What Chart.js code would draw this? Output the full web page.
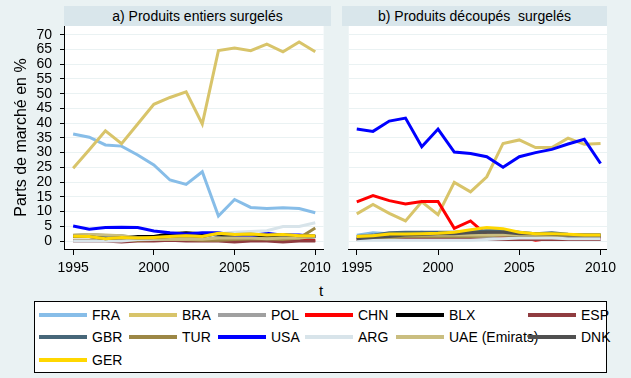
<!DOCTYPE html>
<html>
<head>
<meta charset="utf-8">
<script src="https://cdn.jsdelivr.net/npm/chart.js@4"></script>
<style>
  body { margin: 0; background: #EAF2F3; font-family: "Liberation Sans", Arial, sans-serif; }
  #page { position: relative; width: 631px; height: 378px; overflow: hidden; background: #EAF2F3; }
  canvas { position: absolute; top: 0; }
  .strip { position: absolute; top: 6px; height: 20px; background: #D9E6EB; font-size: 14px;
           line-height: 20px; text-align: center; color: #000; }
  #legend { position: absolute; left: 34px; top: 301px; width: 573px; height: 72px;
            box-sizing: border-box; border: 1px solid #000; background: #fff; }
  .lg-line { position: absolute; width: 48px; height: 4px; }
  .lg-text { position: absolute; font-size: 14px; line-height: 16px; color: #000; white-space: nowrap; }
  #xtitle { position: absolute; left: 311px; top: 282px; width: 20px; text-align: center; font-size: 15px; }
</style>
</head>
<body>
<div id="page">
  <canvas id="chartA" width="336" height="280" style="left:0px"></canvas>
  <canvas id="chartB" width="300" height="280" style="left:336px"></canvas>
  <div class="strip" style="left:64px;width:267px">a) Produits entiers surgelés</div>
  <div class="strip" style="left:342px;width:265px">b) Produits découpés&nbsp; surgelés</div>
  <div id="xtitle">t</div>
  <div id="legend"></div>
</div>
<script>
// years on the x axis
const years = [1995, 1996, 1997, 1998, 1999, 2000, 2001, 2002, 2003, 2004, 2005, 2006, 2007, 2008, 2009, 2010];
const xTicks = [1995, 2000, 2005, 2010];
const yTicks = [0, 5, 10, 15, 20, 25, 30, 35, 40, 45, 50, 55, 60, 65, 70];

const countries = ['FRA', 'BRA', 'POL', 'CHN', 'BLX', 'ESP', 'GBR', 'TUR', 'USA', 'ARG', 'UAE (Emirats)', 'DNK', 'GER'];
const colors = ['#87BDE8', '#D8C46A', '#A0A0A0', '#FF0000', '#000000', '#903C40', '#476779',
                '#9C8745', '#0000FF', '#D8E4EA', '#CABE80', '#505050', '#FFD700'];

// a) produits entiers surgeles
const entFRA = [36.3, 35.2, 32.6, 32.2, 29.2, 25.8, 20.7, 19.2, 23.5, 8.5, 14.1, 11.4, 11.0, 11.3, 11.0, 9.6];
const entBRA = [24.7, 31.0, 37.4, 33.0, 39.7, 46.4, 48.7, 50.6, 39.7, 64.6, 65.5, 64.6, 66.8, 64.2, 67.5, 64.2];
const entPOL = [1.8, 2.0, 1.8, 1.6, 1.2, 0.8, 0.6, 0.6, 0.6, 1.0, 1.0, 1.0, 0.8, 1.0, 1.0, 1.4];
const entCHN = [0.2, 0.2, 0.2, 0.2, 0.2, 0.2, 0.2, 0.2, 0.2, 0.2, 0.2, 0.2, 0.2, 0.2, 0.2, 0.2];
const entBLX = [1.5, 1.5, 1.2, 1.5, 1.5, 1.5, 2.5, 2.8, 2.5, 2.0, 1.5, 1.5, 1.5, 2.0, 1.5, 1.5];
const entESP = [0.0, 0.0, 0.0, -0.3, 0.0, 0.0, 0.3, 0.0, 0.0, 0.0, -0.3, 0.0, 0.0, -0.3, 0.0, 0.0];
const entGBR = [1.9, 2.1, 1.9, 1.7, 1.2, 0.8, 0.6, 0.6, 0.6, 1.0, 1.0, 1.0, 0.8, 1.0, 1.0, 1.5];
const entTUR = [0.3, 0.3, 0.3, 0.3, 0.3, 0.5, 0.5, 0.5, 0.3, 0.3, 0.5, 0.7, 0.7, 0.5, 1.0, 4.4];
const entUSA = [5.1, 4.0, 4.6, 4.7, 4.6, 3.4, 2.8, 2.4, 2.8, 2.8, 2.0, 1.8, 2.6, 2.0, 2.0, 1.5];
const entARG = [0.0, 0.0, 0.0, 0.0, 0.5, 0.6, 0.8, 0.8, 1.0, 2.5, 3.0, 3.2, 3.5, 4.9, 4.9, 6.2];
const entUAE = [2.0, 2.2, 2.0, 1.8, 1.2, 0.8, 0.6, 0.6, 0.6, 1.0, 1.0, 1.0, 0.8, 1.0, 1.0, 1.5];
const entDNK = [1.6, 1.5, 0.8, 1.2, 1.0, 1.2, 1.5, 1.8, 1.5, 2.5, 2.2, 2.3, 2.0, 2.1, 1.8, 1.8];
const entGER = [1.6, 1.5, 0.8, 1.2, 1.0, 1.2, 1.5, 1.8, 1.5, 2.6, 2.2, 2.4, 2.0, 2.2, 1.8, 1.8];

// b) produits decoupes surgeles
const decFRA = [2.0, 2.8, 2.5, 2.5, 3.0, 2.5, 2.0, 1.5, 1.2, 1.0, 1.5, 1.2, 1.0, 1.0, 1.0, 0.5];
const decBRA = [9.2, 12.4, 9.4, 6.8, 13.3, 8.9, 19.9, 16.7, 21.8, 33.1, 34.3, 31.7, 31.7, 34.9, 32.8, 33.1];
const decPOL = [1.0, 1.0, 1.0, 1.0, 1.0, 1.0, 1.0, 1.0, 1.0, 1.0, 1.0, 1.0, 1.0, 1.0, 1.0, 1.0];
const decCHN = [13.3, 15.4, 13.7, 12.6, 13.4, 13.4, 4.3, 6.8, 2.0, 1.7, 1.5, 0.3, 0.9, 1.0, 1.2, 1.2];
const decBLX = [0.5, 1.0, 1.2, 1.2, 1.5, 1.5, 1.8, 2.0, 2.0, 2.0, 1.8, 1.8, 1.5, 1.5, 1.5, 1.5];
const decESP = [0.5, 0.5, 0.5, 0.5, 0.5, 0.5, 0.5, 0.5, 0.5, 0.5, 0.5, 0.5, 0.5, 0.5, 0.5, 0.5];
const decGBR = [1.5, 2.0, 2.8, 3.0, 3.0, 3.0, 3.0, 3.3, 3.5, 3.5, 3.0, 2.5, 2.8, 2.3, 2.0, 2.0];
const decTUR = [1.0, 1.0, 1.0, 1.5, 1.5, 1.5, 1.5, 1.5, 1.8, 2.0, 2.0, 2.0, 1.8, 1.8, 1.8, 1.8];
const decUSA = [38.0, 37.2, 40.7, 41.7, 32.0, 38.0, 30.2, 29.7, 28.6, 25.0, 28.6, 30.0, 31.1, 32.9, 34.5, 26.3];
const decARG = [0.3, 0.3, 0.3, 0.3, 0.3, 0.3, 0.3, 0.3, 0.5, 0.8, 1.0, 1.0, 1.0, 0.8, 0.8, 0.8];
const decUAE = [1.5, 1.8, 1.8, 2.0, 2.0, 2.0, 2.0, 2.0, 2.0, 2.0, 2.0, 2.0, 2.0, 2.0, 2.0, 2.0];
const decDNK = [0.8, 1.2, 1.5, 2.0, 2.2, 2.5, 2.5, 2.8, 3.0, 3.0, 2.5, 2.5, 2.3, 2.0, 2.0, 2.0];
const decGER = [1.5, 1.8, 2.4, 2.4, 2.5, 2.6, 3.0, 3.8, 4.6, 4.2, 3.0, 2.5, 2.5, 2.3, 2.0, 2.0];

const entier = [entFRA, entBRA, entPOL, entCHN, entBLX, entESP, entGBR, entTUR, entUSA, entARG, entUAE, entDNK, entGER];
const decoupe = [decFRA, decBRA, decPOL, decCHN, decBLX, decESP, decGBR, decTUR, decUSA, decARG, decUAE, decDNK, decGER];

const FONT = 'Liberation Sans';

function makeDatasets(series) {
    return series.map((vals, i) => ({
        label: countries[i],
        data: vals.map((v, k) => ({ x: years[k], y: v })),
        borderColor: colors[i],
        borderWidth: 3,
        pointRadius: 0,
        tension: 0,
        fill: false,
        order: -i   // later series drawn on top, as in the original
    }));
}

const whiteArea = {
    id: 'whiteArea',
    beforeDraw(chart) {
        const { ctx, chartArea: a } = chart;
        ctx.save();
        ctx.fillStyle = '#fff';
        ctx.fillRect(a.left, a.top, a.right - a.left, a.bottom - a.top);
        ctx.restore();
    }
};

function makeChart(id, series, xmin, xmax, showY, padding) {
    return new Chart(id, {
        type: 'line',
        data: { datasets: makeDatasets(series) },
        plugins: [whiteArea],
        options: {
            responsive: false,
            animation: false,
            devicePixelRatio: 1,
            layout: { padding: padding },
            plugins: { legend: { display: false }, tooltip: { enabled: false } },
            scales: {
                x: {
                    type: 'linear',
                    min: xmin,
                    max: xmax,
                    afterBuildTicks: s => { s.ticks = xTicks.map(v => ({ value: v })); },
                    afterFit: s => { s.height = 31; },
                    grid: { drawOnChartArea: false, tickLength: 6, tickColor: '#000' },
                    border: { color: '#000', width: 1 },
                    ticks: { color: '#000', font: { family: FONT, size: 14 }, padding: 5, maxRotation: 0,
                             autoSkip: false, callback: v => String(v) }
                },
                y: {
                    min: -2.71,
                    max: 72.95,
                    afterBuildTicks: s => { s.ticks = yTicks.map(v => ({ value: v })); },
                    afterFit: s => { s.width = showY ? 64 : 0; },
                    grid: { color: '#EAF2F3', lineWidth: 1, tickLength: showY ? 4 : 0, drawTicks: showY, tickColor: '#000' },
                    border: { display: showY, color: '#000', width: 1 },
                    ticks: { display: showY, color: '#000', font: { family: FONT, size: 14 }, padding: 8,
                             autoSkip: false },
                    title: { display: showY, text: 'Parts de marché en %', color: '#000',
                             font: { family: FONT, size: 16 }, padding: { top: 12, bottom: 0 } }
                }
            }
        }
    });
}

makeChart('chartA', entier, 1994.434, 2010.518, true, { top: 26, right: 5, left: 0, bottom: 0 });
makeChart('chartB', decoupe, 1994.508, 2010.396, false, { top: 26, right: 29, left: 6, bottom: 0 });

// legend in six columns, like the original
const colLine = [39, 129, 218, 305, 396, 528];
const rowMid = [315, 337, 360];
const legend = document.getElementById('legend');
countries.forEach((name, i) => {
    const r = Math.floor(i / 6), c = i % 6;
    const line = document.createElement('div');
    line.className = 'lg-line';
    line.style.background = colors[i];
    line.style.left = (colLine[c] - 35) + 'px';
    line.style.top = (rowMid[r] - 302 - 2) + 'px';
    legend.appendChild(line);
    const txt = document.createElement('div');
    txt.className = 'lg-text';
    txt.textContent = name;
    txt.style.left = (colLine[c] + 53 - 35) + 'px';
    txt.style.top = (rowMid[r] - 302 - 8) + 'px';
    legend.appendChild(txt);
});
</script>
</body>
</html>
